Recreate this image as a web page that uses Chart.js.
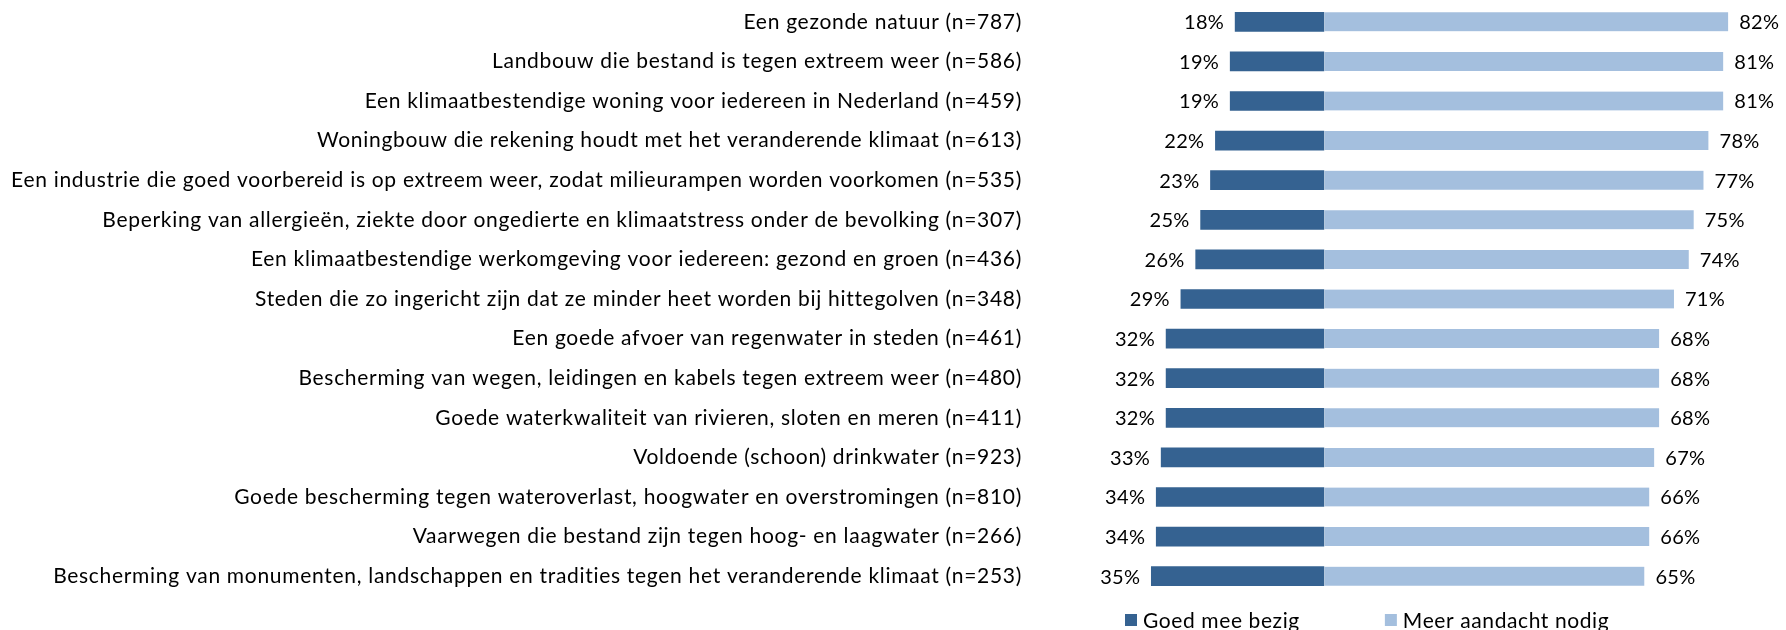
<!DOCTYPE html>
<html>
<head>
<meta charset="utf-8">
<script src="https://cdn.jsdelivr.net/npm/chart.js@4.4.0/dist/chart.umd.min.js"></script>
<style>
  html, body { margin: 0; padding: 0; background: #fff; }
  #wrap { width: 1786px; height: 630px; position: relative; }
</style>
</head>
<body>
<div id="wrap"><canvas id="chart"></canvas></div>
<script>
const categories = [
  'Een gezonde natuur (n=787)',
  'Landbouw die bestand is tegen extreem weer (n=586)',
  'Een klimaatbestendige woning voor iedereen in Nederland (n=459)',
  'Woningbouw die rekening houdt met het veranderende klimaat (n=613)',
  'Een industrie die goed voorbereid is op extreem weer, zodat milieurampen worden voorkomen (n=535)',
  'Beperking van allergieën, ziekte door ongedierte en klimaatstress onder de bevolking (n=307)',
  'Een klimaatbestendige werkomgeving voor iedereen: gezond en groen (n=436)',
  'Steden die zo ingericht zijn dat ze minder heet worden bij hittegolven (n=348)',
  'Een goede afvoer van regenwater in steden (n=461)',
  'Bescherming van wegen, leidingen en kabels tegen extreem weer (n=480)',
  'Goede waterkwaliteit van rivieren, sloten en meren (n=411)',
  'Voldoende (schoon) drinkwater (n=923)',
  'Goede bescherming tegen wateroverlast, hoogwater en overstromingen (n=810)',
  'Vaarwegen die bestand zijn tegen hoog- en laagwater (n=266)',
  'Bescherming van monumenten, landschappen en tradities tegen het veranderende klimaat (n=253)'
];
const goedMeeBezig = [18, 19, 19, 22, 23, 25, 26, 29, 32, 32, 32, 33, 34, 34, 35];
const meerAandacht = [82, 81, 81, 78, 77, 75, 74, 71, 68, 68, 68, 67, 66, 66, 65];
const seriesNames = ['Goed mee bezig', 'Meer aandacht nodig'];
const colors = ['#356291', '#a4bfde'];

const FONT = 'Lato, "Open Sans", sans-serif';
const LABEL_SIZE = 21;
const VALUE_SIZE = 20;
const SPACING = '0.7px';

// wider spacing for the category labels (Calibri-like width)
const textSpacing = {
  id: 'textSpacing',
  beforeDraw(chart) {
    chart.ctx.letterSpacing = SPACING;
  },
  beforeDatasetsDraw(chart) {
    chart.ctx.letterSpacing = '0px';
  }
};

// percentages next to the bars
const valueLabels = {
  id: 'valueLabels',
  afterDatasetsDraw(chart) {
    const ctx = chart.ctx;
    ctx.save();
    ctx.letterSpacing = '0.3px';
    ctx.font = VALUE_SIZE + 'px ' + FONT;
    ctx.fillStyle = '#000';
    ctx.textBaseline = 'middle';
    chart.getDatasetMeta(0).data.forEach((bar, i) => {
      ctx.textAlign = 'right';
      ctx.fillText(goedMeeBezig[i] + '%', bar.x - 11, bar.y + 1);
    });
    chart.getDatasetMeta(1).data.forEach((bar, i) => {
      ctx.textAlign = 'left';
      ctx.fillText(meerAandacht[i] + '%', bar.x + 11, bar.y + 1);
    });
    ctx.restore();
  }
};

// legend under the plot, left aligned with the bars
const bottomLegend = {
  id: 'bottomLegend',
  afterDraw(chart) {
    const ctx = chart.ctx;
    const area = chart.chartArea;
    ctx.save();
    ctx.letterSpacing = '0.6px';
    ctx.font = LABEL_SIZE + 'px ' + FONT;
    ctx.textBaseline = 'middle';
    ctx.textAlign = 'left';
    let x = area.left + 23;
    const y = area.bottom + 24;
    seriesNames.forEach((name, i) => {
      ctx.fillStyle = colors[i];
      ctx.fillRect(x, y - 6, 12, 12);
      ctx.fillStyle = '#000';
      ctx.fillText(name, x + 18, y + 1);
      x += 18 + ctx.measureText(name).width + 85;
    });
    ctx.restore();
  }
};

new Chart(document.getElementById('chart'), {
  type: 'bar',
  data: {
    labels: categories,
    datasets: [{
      label: seriesNames[0],
      data: goedMeeBezig.map(v => -v),
      backgroundColor: colors[0],
      borderWidth: 0,
      barThickness: 19
    }, {
      label: seriesNames[1],
      data: meerAandacht,
      backgroundColor: colors[1],
      borderColor: '#ffffff',
      borderWidth: {left: 1, right: 0, top: 0, bottom: 0},
      borderSkipped: false,
      barThickness: 19
    }]
  },
  options: {
    indexAxis: 'y',
    responsive: true,
    maintainAspectRatio: false,
    animation: false,
    layout: {
      padding: {left: 0, right: 43, top: 2, bottom: 34}
    },
    plugins: {
      legend: {display: false},
      tooltip: {enabled: false}
    },
    scales: {
      x: {
        display: false,
        stacked: true,
        min: -45,
        max: 85
      },
      y: {
        stacked: true,
        grid: {display: false, drawTicks: false},
        border: {display: false},
        ticks: {
          color: '#000',
          padding: 80,
          autoSkip: false,
          font: {family: FONT, size: LABEL_SIZE}
        },
        afterFit(scale) {
          scale.width = 1102;
          scale.paddingTop = 0;
          scale.paddingBottom = 0;
        }
      }
    }
  },
  plugins: [textSpacing, valueLabels, bottomLegend]
});
</script>
</body>
</html>
